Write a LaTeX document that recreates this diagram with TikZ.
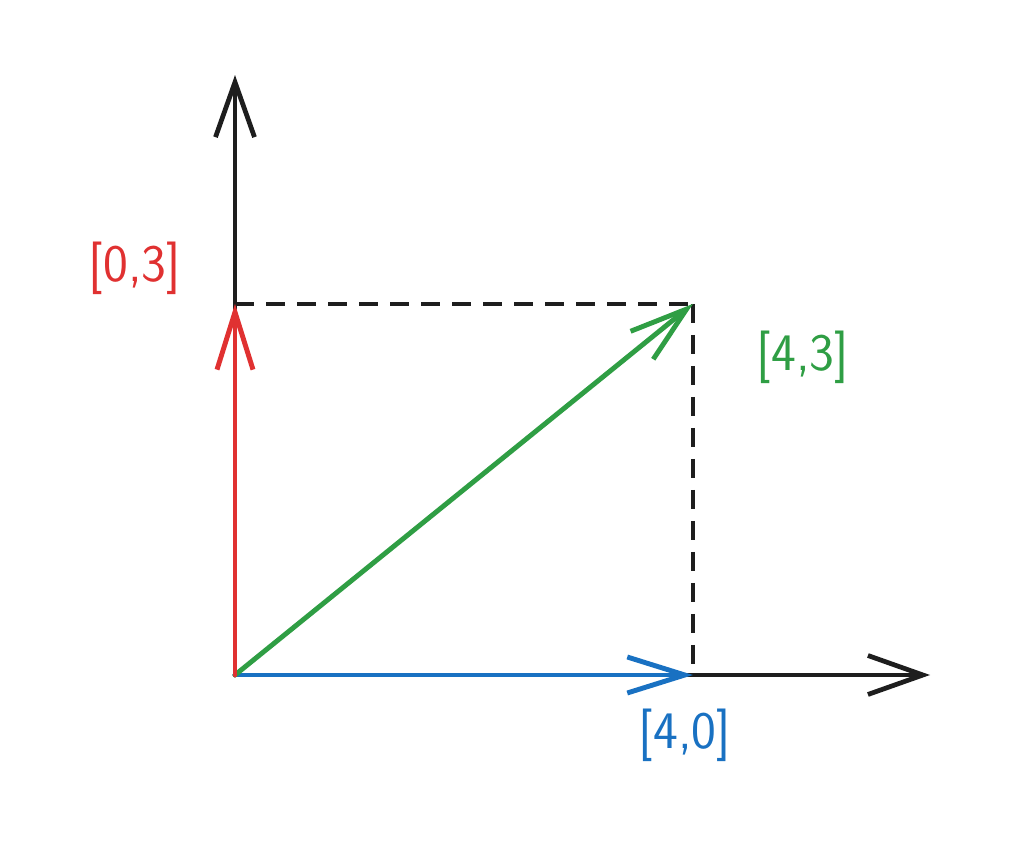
\documentclass[tikz,border=0pt]{standalone}
\usetikzlibrary{arrows.meta}

\definecolor{inkblack}{HTML}{1E1E1E}
\definecolor{inkred}{HTML}{E03131}
\definecolor{inkgreen}{HTML}{2F9E44}
\definecolor{inkblue}{HTML}{1971C2}

\begin{document}
\begin{tikzpicture}[x=2.29cm, y=2.474cm, line cap=round, line join=round,
  axis/.style={draw=inkblack, line width=2.7pt, -{Straight Barb[length=1.1cm, width=0.78cm]}},
  vec/.style={line width=2.8pt, -{Straight Barb[length=1.15cm, width=0.72cm]}},
  guide/.style={draw=inkblack, line width=2.5pt, line cap=butt, dash pattern=on 0.38cm off 0.24cm},
  lbl/.style={font=\sffamily\fontsize{30}{34}\selectfont}]

\useasboundingbox (-4.7cm,-3.42cm) rectangle (15.48cm,13.5cm);

\coordinate (O) at (0,0);
\coordinate (A) at (4,0);
\coordinate (B) at (0,3);
\coordinate (P) at (4,3);
\coordinate (xend) at (6.07,0);
\coordinate (yend) at (0,4.85);

% axes
\draw [axis] (O) -- (xend);
\draw [axis] (O) -- (yend);

% guides to the sum
\draw [guide] (B) -- (P);
\draw [guide] (P) -- (A);

% vectors
\draw [vec, inkblue] (O) -- (A);
\draw [vec, inkgreen] (O) -- (P);
\draw [vec, inkred] (O) -- (B);

\node [lbl, text=inkred] (lblB) at (-0.873,3.29) {[0,3]};
\node [lbl, text=inkgreen] (lblP) at (4.96,2.57) {[4,3]};
\node [lbl, text=inkblue] (lblA) at (3.93,-0.485) {[4,0]};

\end{tikzpicture}
\end{document}
